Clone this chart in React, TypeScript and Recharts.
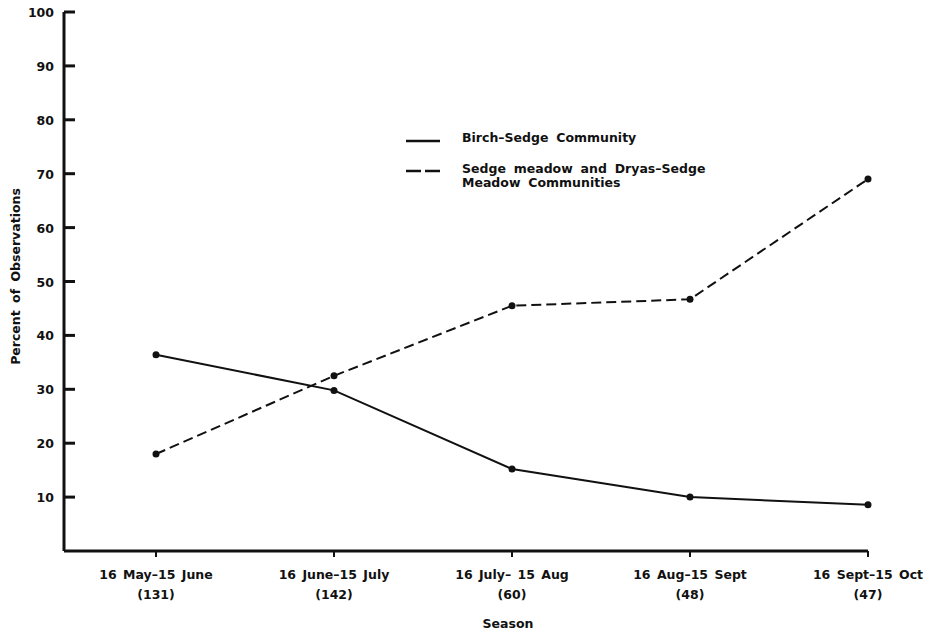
import { Label, Legend, Line, LineChart, XAxis, YAxis } from "recharts";

// seasons on the x axis, with the number of observations under each
const seasons = [
  "16 May\u201315 June",
  "16 June\u201315 July",
  "16 July\u2013 15 Aug",
  "16 Aug\u201315 Sept",
  "16 Sept\u201315 Oct",
];
const counts = ["(131)", "(142)", "(60)", "(48)", "(47)"];

// percent of observations
const birchSedge = [36.4, 29.8, 15.2, 10.0, 8.6];
const sedgeMeadow = [18.0, 32.5, 45.5, 46.7, 69.0];

const yTicks = [10, 20, 30, 40, 50, 60, 70, 80, 90, 100];

const data = seasons.map((s, i) => ({
  season: s,
  count: counts[i],
  birch: birchSedge[i],
  sedge: sedgeMeadow[i],
}));

const FONT = "'DejaVu Sans', sans-serif";
const INK = "#111";
const Y_TICK_MARGIN = 10;

const XTick = (props: any) => {
  const { x, y, payload } = props;
  return (
    <g>
      <text x={x} y={y + 20} textAnchor="middle" fontFamily={FONT} fontSize={12.5} fontWeight="bold" fill={INK} wordSpacing={2}>
        {payload.value}
      </text>
      <text x={x} y={y + 40} textAnchor="middle" fontFamily={FONT} fontSize={12.5} fontWeight="bold" fill={INK}>
        {counts[payload.index]}
      </text>
    </g>
  );
};

// y ticks point inward, into the plot
const YTick = (props: any) => {
  const { x, y, payload } = props;
  const axisX = x + Y_TICK_MARGIN;
  return (
    <g>
      <line x1={axisX} x2={axisX + 11} y1={y} y2={y} stroke={INK} strokeWidth={3} />
      <text x={x} y={y + 5} textAnchor="end" fontFamily={FONT} fontSize={12.5} fontWeight="bold" fill={INK}>
        {payload.value}
      </text>
    </g>
  );
};

const YLabel = (props: any) => {
  const { viewBox } = props;
  const cx = 15;
  const cy = viewBox.y + viewBox.height / 2 - 5;
  return (
    <text
      x={cx}
      y={cy}
      transform={`rotate(-90, ${cx}, ${cy})`}
      textAnchor="middle"
      dominantBaseline="central"
      fontFamily={FONT}
      fontSize={12.5}
      fontWeight="bold"
      fill={INK}
      wordSpacing={3}
    >
      Percent of Observations
    </text>
  );
};

const LegendBox = () => {
  const textStyle = {
    fontFamily: FONT,
    fontSize: 12.5,
    fontWeight: "bold" as const,
    color: INK,
    wordSpacing: 3.5,
    lineHeight: "14px",
  };
  return (
    <div style={{ display: "flex", flexDirection: "column", gap: 15 }}>
      <div style={{ display: "flex", alignItems: "flex-start" }}>
        <svg width={62} height={16}>
          <line x1={6} x2={40} y1={10} y2={10} stroke={INK} strokeWidth={2.5} />
        </svg>
        <div style={textStyle}>Birch–Sedge Community</div>
      </div>
      <div style={{ display: "flex", alignItems: "flex-start" }}>
        <svg width={62} height={16}>
          <line x1={6} x2={40} y1={9} y2={9} stroke={INK} strokeWidth={2.5} strokeDasharray="15 4" />
        </svg>
        <div style={textStyle}>
          Sedge meadow and Dryas–Sedge
          <br />
          Meadow Communities
        </div>
      </div>
    </div>
  );
};

export default function App() {
  return (
    <div style={{ position: "absolute", left: 0, top: 0, background: "#fff" }}>
      <LineChart width={932} height={632} data={data} margin={{ top: 12, right: 64, bottom: 0, left: 0 }}>
        <XAxis
          dataKey="season"
          height={81}
          padding={{ left: 92, right: 0 }}
          axisLine={{ stroke: INK, strokeWidth: 3 }}
          tickLine={{ stroke: INK, strokeWidth: 2 }}
          tickSize={6}
          tickMargin={2}
          tick={<XTick />}
          interval={0}
        >
          <Label
            value="Season"
            position="insideBottom"
            offset={4}
            dx={42}
            style={{ fontFamily: FONT, fontSize: 12.5, fontWeight: "bold", fill: INK }}
          />
        </XAxis>
        <YAxis
          width={64}
          domain={[0, 100]}
          ticks={yTicks}
          axisLine={{ stroke: INK, strokeWidth: 3 }}
          tickLine={false}
          tickSize={0}
          tickMargin={Y_TICK_MARGIN}
          tick={<YTick />}
        >
          <Label content={<YLabel />} />
        </YAxis>
        <Legend
          layout="horizontal"
          verticalAlign="middle"
          align="center"
          content={<LegendBox />}
          wrapperStyle={{ left: 400, top: 131, width: "auto" }}
        />
        <Line
          dataKey="birch"
          name="Birch–Sedge Community"
          stroke={INK}
          strokeWidth={2}
          dot={{ r: 3.5, fill: INK, stroke: INK, strokeWidth: 0 }}
          isAnimationActive={false}
        />
        <Line
          dataKey="sedge"
          name="Sedge meadow and Dryas–Sedge Meadow Communities"
          stroke={INK}
          strokeWidth={2}
          strokeDasharray="10 5"
          dot={{ r: 3.5, fill: INK, stroke: INK, strokeWidth: 0, strokeDasharray: "0" }}
          isAnimationActive={false}
        />
      </LineChart>
    </div>
  );
}
